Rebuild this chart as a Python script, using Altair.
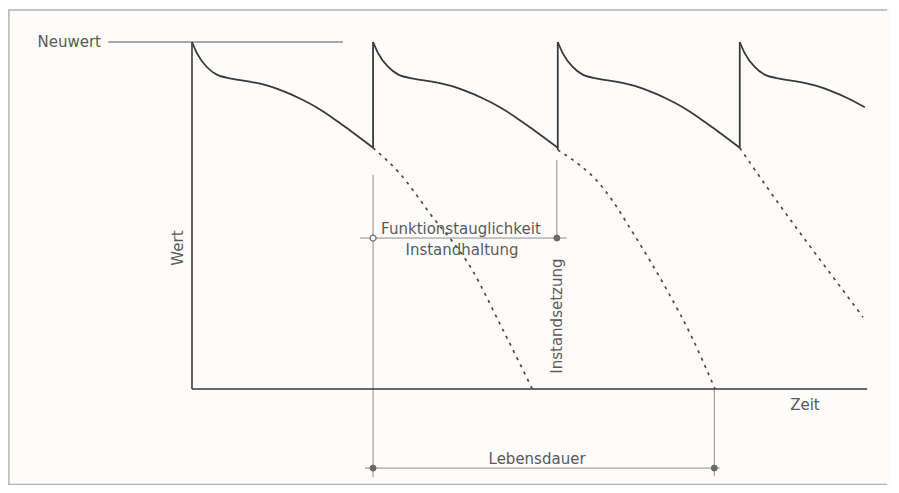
import altair as alt
import pandas as pd

# ---------------- data ----------------
# time axis: one maintenance cycle ~10 units, value axis: Neuwert = 100
PROFILE_T = [0, 0.27, 0.82, 1.37, 2.25, 3.19, 4.12, 5.0, 5.93, 6.87, 7.75, 8.68, 9.4, 10.0]
PROFILE_V = [100, 96.8, 92.8, 90.6, 89.4, 88.6, 87.5, 85.9, 83.8, 81.2, 78.2, 74.7, 71.9, 69.5]
CYCLE_START = [0.0, 9.95, 20.1, 30.1]
CYCLE_LEN = [9.95, 10.15, 10.0, 10.0]
CYCLE_STOP = [9.95, 20.1, 30.1, 37.05]

DASH1_T = [9.95, 11.4, 13.1, 15.4, 16.9, 18.7]
DASH1_V = [69.5, 62.2, 50.4, 34.3, 19.0, 0.0]
DASH2_T = [20.1, 22.69, 24.23, 26.1, 27.36, 28.74]
DASH2_V = [68.9, 57.3, 45.0, 28.5, 16.1, 0.0]
DASH3_T = [30.1, 31.59, 33.41, 35.22, 36.87]
DASH3_V = [69.5, 58.2, 45.0, 32.3, 20.7]

NEUWERT = 100
AXIS_END_T = 37.1
FUNKTION_LEVEL = 43.5
LEBENS_LEVEL = -22.8
T_INSTANDHALTUNG = 9.95
T_INSTANDSETZUNG = 20.05
T_LEBENSENDE = 28.7

LABELS = ["Neuwert", "Wert", "Zeit", "Funktionstauglichkeit", "Instandhaltung",
          "Instandsetzung", "Lebensdauer"]

X_DOMAIN = [-10.11, 38.41]
Y_DOMAIN = [-27.67, 109.8]
FRAME_TOP = 109.2
FRAME_BOTTOM = -27.5

xs = alt.Scale(domain=X_DOMAIN, nice=False, zero=False)
ys = alt.Scale(domain=Y_DOMAIN, nice=False, zero=False)

INK = "#3a3a3a"
GREY = "#8c8c8c"
TEXT = "#5a5a5a"
FONT = "DejaVu Sans"
BG = "#fdfcfa"


def X(f="t"):
    return alt.X(f"{f}:Q", scale=xs, axis=None)


def Y(f="v"):
    return alt.Y(f"{f}:Q", scale=ys, axis=None)


# solid value curve, one piece per cycle
rows = []
for c, (s, L, stop) in enumerate(zip(CYCLE_START, CYCLE_LEN, CYCLE_STOP)):
    for i, (pt, pv) in enumerate(zip(PROFILE_T, PROFILE_V)):
        t = s + pt * L / 10.0
        if t <= stop + 1e-9:
            rows.append({"cycle": c, "i": i, "t": t, "v": pv})
curve_df = pd.DataFrame(rows)

# vertical jumps back to Neuwert
jump_df = pd.DataFrame({
    "t": CYCLE_START[1:],
    "v": [PROFILE_V[-1], DASH2_V[0], DASH3_V[0]],
    "v2": [NEUWERT] * 3,
})

dash_rows = []
for k, (ts, vs) in enumerate([(DASH1_T, DASH1_V), (DASH2_T, DASH2_V), (DASH3_T, DASH3_V)]):
    for i, (t, v) in enumerate(zip(ts, vs)):
        dash_rows.append({"curve": k, "i": i, "t": t, "v": v})
dash_df = pd.DataFrame(dash_rows)

# horizontal lines: frame top/bottom, Neuwert, Funktionstauglichkeit, Lebensdauer, time axis
hline_df = pd.DataFrame({
    "t": [X_DOMAIN[0], X_DOMAIN[0], -4.6, 9.23, 9.5, 0],
    "t2": [X_DOMAIN[1], X_DOMAIN[1], 8.3, 20.6, 29.0, AXIS_END_T],
    "v": [FRAME_TOP, FRAME_BOTTOM, NEUWERT, FUNKTION_LEVEL, LEBENS_LEVEL, 0],
    "kind": ["frame", "frame", "neu", "ann", "ann", "axis"],
})
# vertical lines: frame left, annotation verticals, value axis
vline_df = pd.DataFrame({
    "t": [X_DOMAIN[0] + 0.05, T_INSTANDHALTUNG, T_INSTANDSETZUNG, T_LEBENSENDE, 0],
    "v": [FRAME_BOTTOM, -25.4, FUNKTION_LEVEL, -25.0, 0],
    "v2": [FRAME_TOP, 61.7, 66.0, 0, NEUWERT],
    "kind": ["frame", "ann", "ann", "ann", "axis"],
})

KINDS = ["frame", "neu", "ann", "axis"]
KIND_COLOR = ["#b4b4b4", GREY, GREY, INK]
KIND_WIDTH = [1.5, 1.3, 1.0, 1.6]

open_pt = pd.DataFrame({"t": [T_INSTANDHALTUNG], "v": [FUNKTION_LEVEL]})
filled_pt = pd.DataFrame({
    "t": [T_INSTANDSETZUNG, T_INSTANDHALTUNG, T_LEBENSENDE],
    "v": [FUNKTION_LEVEL, LEBENS_LEVEL, LEBENS_LEVEL],
})

# the frame is open on the right in the original: mask the right edge strip
mask_df = pd.DataFrame({"t": [38.2], "t2": [38.6], "v": [Y_DOMAIN[0]], "v2": [Y_DOMAIN[1]]})

layers = []
for kind, col, w in zip(KINDS, KIND_COLOR, KIND_WIDTH):
    h = hline_df[hline_df.kind == kind]
    if len(h):
        layers.append(alt.Chart(h).mark_rule(color=col, strokeWidth=w).encode(
            x=X("t"), x2="t2:Q", y=Y("v")))
    vv = vline_df[vline_df.kind == kind]
    if len(vv):
        layers.append(alt.Chart(vv).mark_rule(color=col, strokeWidth=w).encode(
            x=X("t"), y=Y("v"), y2="v2:Q"))

layers += [
    alt.Chart(curve_df).mark_line(color=INK, strokeWidth=1.8, interpolate="monotone").encode(
        x=X("t"), y=Y("v"), detail="cycle:N", order="i:Q"),
    alt.Chart(jump_df).mark_rule(color=INK, strokeWidth=1.8).encode(
        x=X("t"), y=Y("v"), y2="v2:Q"),
    alt.Chart(dash_df).mark_line(color="#4a4a4a", strokeWidth=1.7, strokeDash=[3, 5],
                                 interpolate="monotone").encode(
        x=X("t"), y=Y("v"), detail="curve:N", order="i:Q"),
    alt.Chart(open_pt).mark_point(shape="circle", size=36, filled=True, fill=BG,
                                  stroke="#6a6a6a", strokeWidth=1.2, opacity=1).encode(
        x=X("t"), y=Y("v")),
    alt.Chart(filled_pt).mark_point(shape="circle", size=36, filled=True, fill="#6a6a6a",
                                    stroke="#6a6a6a", strokeWidth=1, opacity=1).encode(
        x=X("t"), y=Y("v")),
]

text_df = pd.DataFrame({
    "label": LABELS,
    "t": [-5.0, -0.77, 33.68, 14.78, 14.84, T_INSTANDSETZUNG, 18.96],
    "v": [100.0, 40.6, -4.6, 44.7, 38.6, 21.0, -21.6],
    "angle": [0, 270, 0, 0, 0, 270, 0],
    "align": ["right", "center", "center", "center", "center", "center", "center"],
    "baseline": ["middle", "middle", "middle", "alphabetic", "alphabetic", "middle", "alphabetic"],
})

for k in range(len(text_df)):
    sub = text_df.iloc[[k]]
    layers.append(
        alt.Chart(sub).mark_text(
            font=FONT, fontSize=15, color=TEXT, angle=int(sub["angle"].iloc[0]),
            align=str(sub["align"].iloc[0]), baseline=str(sub["baseline"].iloc[0]),
        ).encode(x=X("t"), y=Y("v"), text="label:N")
    )

layers.append(
    alt.Chart(mask_df).mark_rect(color=BG, opacity=1).encode(
        x=X("t"), x2="t2:Q", y=Y("v"), y2="v2:Q")
)

chart = alt.layer(*layers).properties(
    width=883, height=477, padding=0, autosize="none", background=BG
).configure_view(stroke="transparent", strokeWidth=0)

chart.save("out.html", embed_options={"renderer": "svg", "actions": False})
